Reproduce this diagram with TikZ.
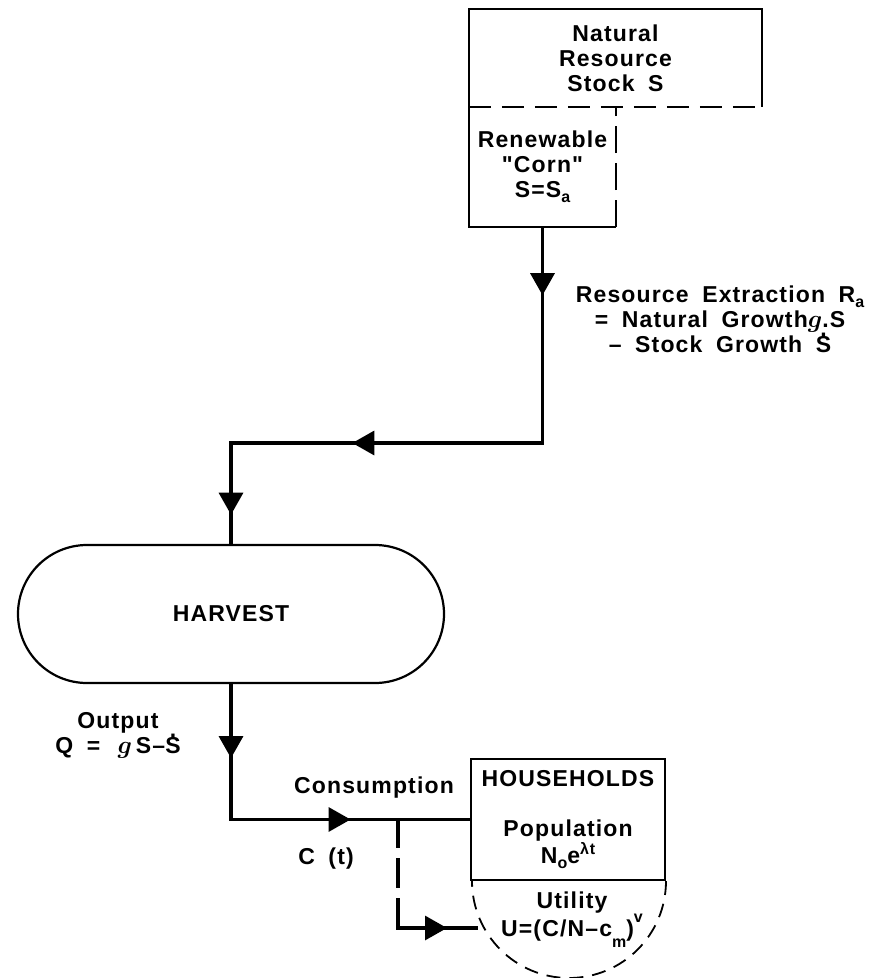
\documentclass[tikz,border=0pt]{standalone}
\usepackage{fontspec}
\setmainfont{Liberation Sans}[LetterSpace=5, WordSpace=1.8, Ligatures=TeXOff]
\usetikzlibrary{shapes.misc,decorations.markings,arrows.meta}
\newcommand\dotS{\mbox{\ooalign{S\cr\hidewidth\smash{\raisebox{0.68em}{.}}\hidewidth\cr}}}
\newcommand\mysub[2][0.45ex]{\raisebox{-#1}{\fontsize{16}{16}\selectfont #2}}
\newcommand\mysup[2][0.75ex]{\raisebox{#1}{\fontsize{16}{16}\selectfont #2}}
\begin{document}
\begin{tikzpicture}[x=1pt,y=-1pt,
  txt/.style={font=\fontsize{23}{25}\selectfont\bfseries\boldmath, align=center, inner sep=0pt},
  conn/.style={line width=3.2pt},
  boxline/.style={line width=2.3pt},
  bigtri/.tip={Triangle[length=22pt,width=24pt]}]
\fill[white] (0,0) rectangle (878,978);
\useasboundingbox (0,0) rectangle (878,978);

% Natural resource stock
\node[txt, minimum width=293pt, minimum height=98pt] (stock) at (615.5,58) {Natural\\Resource\\Stock S};
\draw[boxline] (stock.south west) -- (stock.north west) -- (stock.north east) -- (stock.south east);
\draw[boxline, dash pattern=on 22pt off 11pt] (stock.south west) -- (stock.south east);

% Renewable corn
\node[txt, minimum width=147pt, minimum height=120pt] (renew) at (542.5,167) {Renewable\\"Corn"\\S=S\mysub{a}};
\draw[boxline] (renew.north west) -- (renew.south west) -- (renew.south east);
\draw[boxline, dash pattern=on 27pt off 10pt] (renew.south east) -- (renew.north east);

% Extraction label
\node[txt] (extr) at (720,319) {Resource Extraction R\mysub{a}\\= Natural Growth$g$.S\\– Stock Growth \dotS};

% Harvest
\node[txt, draw, rounded rectangle, line width=2.2pt, minimum width=426pt, minimum height=138pt] (harvest) at (231,614) {HARVEST};

% Households
\node[txt, draw, line width=2pt, minimum width=194pt, minimum height=121pt] (hh) at (568,819.5) {HOUSEHOLDS\\[25pt]Population\\N\mysub{o}e\mysup{λt}};
\draw[line width=1.8pt, dash pattern=on 14pt off 9pt] (hh.south east) arc[start angle=0, end angle=-180, radius=97pt];

% Labels
\node[txt] (out) at (118,735) {Output\\Q = \,$g$\,S–\dotS};
\node[txt, anchor=base] (cons) at (374,793) {Consumption};
\node[txt, anchor=base] (ct) at (326,864) {C (t)};
\node[txt] (util) at (572,919.5) {Utility\\U=(C/N–c\mysub[0.9ex]{m})\mysup[1.1ex]{v}};

% Coordinates
\coordinate (c1) at (renew.south |- 0,443);
\coordinate (c2) at (harvest.north |- c1);
\coordinate (c3) at (harvest.south |- hh.west);
\coordinate (b1) at (398,819.5);
\coordinate (b2) at (398,928);
\coordinate (uin) at (476,928);

% Connectors
\draw[conn, postaction={decorate}, decoration={markings,
    mark=at position 68pt with {\arrow{bigtri}},
    mark=at position 406pt with {\arrow{bigtri}},
    mark=at position 599pt with {\arrow{bigtri}}}]
  (renew.south) -- (c1) -- (c2) -- (harvest.north);
\draw[conn, postaction={decorate}, decoration={markings,
    mark=at position 74pt with {\arrow{bigtri}},
    mark=at position 255pt with {\arrow{bigtri}}}]
  (harvest.south) -- (c3) -- (hh.west);
\draw[conn, line cap=rect, dash pattern=on 27pt off 13pt] (b1) -- (b2);
\draw[conn, line cap=rect, postaction={decorate}, decoration={markings,
    mark=at position 49pt with {\arrow{bigtri}}}]
  (b2) -- (uin);
\end{tikzpicture}
\end{document}
